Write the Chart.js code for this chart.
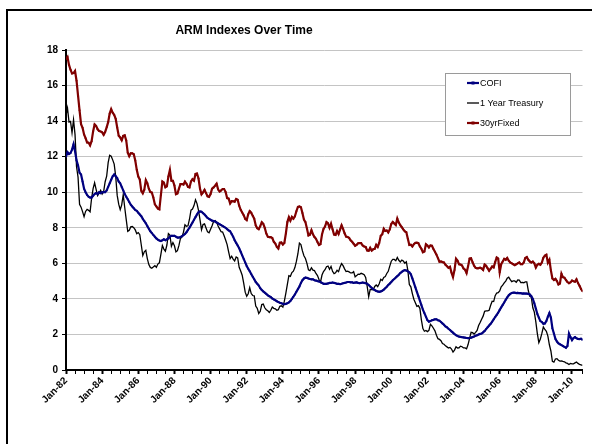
<!DOCTYPE html>
<html lang="en">
<head>
  <meta charset="UTF-8">
  <title>ARM Indexes Over Time</title>
  <script src="https://cdn.jsdelivr.net/npm/chart.js"></script>
  <style>
    html, body {
      margin: 0;
      padding: 0;
      background: #fff;
      overflow: hidden;
    }
    /* outer chart frame, runs off the right and bottom edge like the original */
    #frame {
      position: absolute;
      left: 6px;
      top: 9px;
      width: 620px;
      height: 470px;
      border: 2px solid #000;
    }
    #wrap {
      position: absolute;
      left: 0;
      top: 0;
      width: 592px;
      height: 444px;
    }
  </style>
</head>
<body>
  <div id="frame"></div>
  <div id="wrap"><canvas id="armChart"></canvas></div>

  <script>
    // monthly values, Jan-82 .. Aug-10 (one row per year)
    const cofi = [
      12.0, 12.25, 12.15, 12.2, 12.4, 12.7, 12.3, 11.8, 11.5, 11.1, 11.0, 10.6,
      10.2, 10.0, 9.85, 9.75, 9.7, 9.7, 9.8, 9.9, 9.95, 9.9, 10.0, 9.95,
      10.0, 10.0, 10.0, 10.1, 10.3, 10.5, 10.7, 10.9, 11.0, 10.9, 10.8, 10.6,
      10.5, 10.3, 10.1, 9.9, 9.75, 9.6, 9.45, 9.3, 9.2, 9.1, 9.0, 8.95,
      8.85, 8.75, 8.65, 8.5, 8.38, 8.25, 8.1, 7.95, 7.8, 7.7, 7.6, 7.5,
      7.4, 7.33, 7.28, 7.25, 7.3, 7.35, 7.3, 7.35, 7.4, 7.5, 7.55, 7.55,
      7.55, 7.5, 7.45, 7.45, 7.48, 7.52, 7.58, 7.65, 7.75, 7.88, 8.0, 8.15,
      8.3, 8.45, 8.6, 8.75, 8.88, 8.92, 8.9, 8.82, 8.75, 8.65, 8.55, 8.5,
      8.45, 8.4, 8.38, 8.35, 8.3, 8.25, 8.2, 8.15, 8.1, 8.05, 8.0, 7.92,
      7.85, 7.8, 7.65, 7.5, 7.3, 7.15, 7.0, 6.85, 6.65, 6.45, 6.25, 6.05,
      5.85, 5.7, 5.55, 5.4, 5.25, 5.1, 4.95, 4.85, 4.75, 4.6, 4.5, 4.42,
      4.35, 4.28, 4.2, 4.15, 4.1, 4.02, 3.97, 3.92, 3.87, 3.82, 3.78, 3.75,
      3.72, 3.7, 3.72, 3.75, 3.8, 3.88, 4.0, 4.12, 4.25, 4.4, 4.55, 4.7,
      4.9, 5.05, 5.15, 5.2, 5.18, 5.15, 5.12, 5.1, 5.1, 5.05, 5.03, 5.0,
      4.98, 4.95, 4.9, 4.85, 4.85, 4.85, 4.87, 4.9, 4.9, 4.92, 4.9, 4.88,
      4.85, 4.85, 4.83, 4.85, 4.88, 4.9, 4.92, 4.95, 4.95, 4.93, 4.93, 4.9,
      4.92, 4.93, 4.9, 4.88, 4.9, 4.92, 4.9, 4.88, 4.85, 4.78, 4.7, 4.62,
      4.55, 4.5, 4.45, 4.42, 4.4, 4.42, 4.46, 4.52, 4.6, 4.68, 4.78, 4.86,
      4.95, 5.05, 5.12, 5.2, 5.28, 5.36, 5.45, 5.52, 5.58, 5.62, 5.6, 5.55,
      5.5, 5.38, 5.15, 4.9, 4.65, 4.4, 4.15, 3.9, 3.65, 3.4, 3.2, 3.0,
      2.8, 2.72, 2.75, 2.8, 2.82, 2.85, 2.85, 2.8, 2.77, 2.7, 2.62, 2.55,
      2.45, 2.4, 2.32, 2.25, 2.17, 2.1, 2.02, 1.96, 1.91, 1.88, 1.86, 1.84,
      1.83, 1.82, 1.8, 1.79, 1.8, 1.82, 1.85, 1.88, 1.92, 1.96, 2.0, 2.03,
      2.05, 2.12, 2.2, 2.3, 2.4, 2.5, 2.6, 2.72, 2.85, 2.98, 3.1, 3.22,
      3.38, 3.52, 3.66, 3.8, 3.95, 4.08, 4.2, 4.28, 4.33, 4.35, 4.35, 4.33,
      4.34, 4.32, 4.32, 4.3, 4.31, 4.3, 4.3, 4.28, 4.25, 4.15, 4.0, 3.75,
      3.45, 3.15, 2.95, 2.75, 2.7, 2.6, 2.62, 2.75, 3.0, 3.2, 2.95, 2.35,
      2.05, 1.75, 1.6, 1.5, 1.45, 1.4, 1.35, 1.3, 1.25, 1.35, 2.05, 1.85,
      1.68, 1.8, 1.85, 1.78, 1.75, 1.74, 1.76, 1.7
    ];

    const treasury1y = [
      14.32, 14.73, 13.95, 13.98, 13.34, 14.07, 13.24, 11.43, 10.85, 9.32, 9.16, 8.91,
      8.62, 8.92, 9.04, 8.98, 8.90, 9.66, 10.20, 10.53, 10.16, 9.81, 9.94, 10.11,
      9.90, 10.04, 10.59, 10.90, 11.66, 12.08, 12.03, 11.82, 11.58, 10.90, 9.82, 9.33,
      9.02, 9.29, 9.86, 9.14, 8.46, 7.80, 7.86, 8.05, 8.07, 8.01, 7.88, 7.67,
      7.73, 7.61, 7.03, 6.44, 6.65, 6.73, 6.27, 5.93, 5.77, 5.72, 5.80, 5.87,
      5.78, 5.96, 6.03, 6.50, 7.00, 6.80, 6.68, 7.03, 7.67, 7.59, 6.96, 7.17,
      6.99, 6.64, 6.71, 7.01, 7.40, 7.49, 7.75, 8.17, 8.09, 8.11, 8.48, 8.99,
      9.05, 9.25, 9.57, 9.36, 8.98, 8.44, 7.89, 8.18, 8.22, 7.99, 7.77, 7.72,
      7.92, 8.11, 8.35, 8.40, 8.32, 8.10, 7.94, 7.78, 7.76, 7.55, 7.31, 7.05,
      6.64, 6.27, 6.40, 6.24, 6.13, 6.36, 6.31, 5.78, 5.57, 5.33, 4.89, 4.38,
      4.15, 4.29, 4.63, 4.30, 4.19, 4.17, 3.60, 3.47, 3.18, 3.30, 3.68, 3.71,
      3.50, 3.39, 3.33, 3.24, 3.36, 3.54, 3.47, 3.44, 3.36, 3.39, 3.58, 3.61,
      3.54, 3.87, 4.32, 4.82, 5.31, 5.27, 5.48, 5.56, 5.76, 6.11, 6.54, 7.14,
      7.05, 6.70, 6.43, 6.27, 6.00, 5.64, 5.59, 5.75, 5.62, 5.59, 5.43, 5.31,
      5.09, 4.94, 5.34, 5.54, 5.64, 5.81, 5.85, 5.67, 5.83, 5.55, 5.42, 5.47,
      5.61, 5.53, 5.80, 5.99, 5.87, 5.69, 5.54, 5.56, 5.52, 5.46, 5.46, 5.53,
      5.24, 5.31, 5.39, 5.38, 5.44, 5.41, 5.36, 5.21, 4.71, 4.12, 4.53, 4.52,
      4.51, 4.70, 4.78, 4.69, 4.85, 5.10, 5.03, 5.20, 5.25, 5.43, 5.55, 5.84,
      6.12, 6.22, 6.22, 6.15, 6.33, 6.17, 6.08, 6.18, 6.13, 6.01, 6.09, 5.60,
      4.81, 4.68, 4.30, 3.98, 3.78, 3.58, 3.62, 3.47, 2.82, 2.33, 2.18, 2.22,
      2.16, 2.23, 2.57, 2.48, 2.35, 2.20, 1.96, 1.76, 1.72, 1.65, 1.49, 1.45,
      1.36, 1.30, 1.24, 1.27, 1.18, 1.01, 1.12, 1.31, 1.24, 1.25, 1.34, 1.31,
      1.24, 1.24, 1.19, 1.43, 1.78, 2.12, 2.10, 2.02, 2.12, 2.23, 2.50, 2.67,
      2.86, 3.03, 3.30, 3.32, 3.33, 3.36, 3.64, 3.87, 3.85, 4.18, 4.33, 4.35,
      4.45, 4.68, 4.77, 4.90, 5.00, 5.16, 5.22, 5.08, 4.97, 5.01, 5.01, 4.94,
      5.06, 5.05, 4.92, 4.93, 4.91, 4.96, 4.96, 4.47, 4.14, 4.10, 3.50, 3.26,
      2.71, 2.05, 1.54, 1.74, 2.06, 2.42, 2.28, 2.18, 1.91, 1.42, 1.07, 0.49,
      0.44, 0.62, 0.64, 0.55, 0.50, 0.51, 0.48, 0.46, 0.40, 0.37, 0.31, 0.37,
      0.35, 0.35, 0.40, 0.45, 0.37, 0.32, 0.29, 0.26
    ];

    const fixed30 = [
      17.48, 17.60, 17.16, 16.89, 16.68, 16.70, 16.82, 16.27, 15.43, 14.61, 13.83, 13.62,
      13.25, 13.04, 12.80, 12.78, 12.63, 12.87, 13.42, 13.81, 13.73, 13.54, 13.44, 13.42,
      13.37, 13.23, 13.39, 13.65, 13.94, 14.42, 14.67, 14.47, 14.35, 14.13, 13.64, 13.18,
      13.08, 12.92, 13.17, 13.20, 12.91, 12.22, 12.03, 12.19, 12.19, 12.14, 11.78, 11.26,
      10.88, 10.71, 10.08, 9.94, 10.14, 10.68, 10.51, 10.20, 10.01, 9.98, 9.70, 9.32,
      9.20, 9.08, 9.04, 9.83, 10.60, 10.54, 10.28, 10.33, 10.89, 11.26, 10.65, 10.64,
      10.38, 9.89, 9.93, 10.20, 10.46, 10.46, 10.43, 10.60, 10.48, 10.30, 10.27, 10.61,
      10.73, 10.65, 11.03, 11.05, 10.77, 10.20, 9.88, 9.99, 10.13, 9.95, 9.77, 9.74,
      9.90, 10.20, 10.27, 10.37, 10.48, 10.16, 10.04, 10.10, 10.18, 10.18, 10.01, 9.67,
      9.64, 9.37, 9.50, 9.49, 9.47, 9.62, 9.58, 9.24, 9.01, 8.86, 8.71, 8.50,
      8.43, 8.76, 8.94, 8.85, 8.67, 8.51, 8.13, 7.98, 7.92, 8.09, 8.31, 8.22,
      7.99, 7.68, 7.50, 7.47, 7.47, 7.42, 7.21, 7.11, 6.92, 6.83, 7.16, 7.17,
      7.06, 7.15, 7.68, 8.32, 8.60, 8.40, 8.61, 8.51, 8.64, 8.93, 9.17, 9.20,
      9.15, 8.83, 8.46, 8.32, 7.96, 7.57, 7.61, 7.86, 7.64, 7.48, 7.38, 7.20,
      7.03, 7.08, 7.62, 7.93, 8.07, 8.32, 8.25, 8.00, 8.23, 7.92, 7.62, 7.60,
      7.82, 7.65, 7.90, 8.14, 7.94, 7.69, 7.50, 7.48, 7.43, 7.29, 7.21, 7.10,
      6.99, 7.04, 7.13, 7.14, 7.14, 7.00, 6.95, 6.92, 6.72, 6.71, 6.87, 6.72,
      6.79, 6.81, 7.04, 6.92, 7.15, 7.55, 7.63, 7.94, 7.82, 7.85, 7.74, 7.91,
      8.21, 8.33, 8.24, 8.15, 8.52, 8.29, 8.15, 8.03, 7.91, 7.80, 7.75, 7.38,
      7.03, 7.05, 6.95, 7.08, 7.15, 7.16, 7.13, 6.95, 6.82, 6.62, 6.66, 7.07,
      7.00, 6.89, 7.01, 6.99, 6.81, 6.65, 6.49, 6.29, 6.09, 6.11, 6.07, 6.05,
      5.92, 5.84, 5.75, 5.81, 5.48, 5.23, 5.63, 6.26, 6.15, 5.95, 5.93, 5.88,
      5.71, 5.64, 5.45, 5.83, 6.27, 6.29, 6.06, 5.87, 5.75, 5.72, 5.73, 5.75,
      5.71, 5.63, 5.93, 5.86, 5.72, 5.58, 5.70, 5.82, 5.77, 6.07, 6.33, 6.27,
      5.50, 5.95, 6.10, 6.25, 6.20, 6.30, 6.15, 6.05, 6.00, 5.95, 5.90, 5.95,
      6.00, 6.05, 5.95, 5.95, 6.05, 6.30, 6.35, 6.20, 6.10, 6.05, 6.10, 6.00,
      5.76, 5.92, 5.97, 5.92, 6.04, 6.32, 6.43, 6.48, 6.04, 6.20, 5.60, 5.15,
      5.06, 5.13, 5.00, 4.81, 4.86, 5.42, 5.22, 5.19, 5.06, 4.95, 4.88, 4.93,
      5.03, 4.99, 4.97, 5.10, 4.89, 4.74, 4.56, 4.43
    ];

    // one label every 24 months
    const tickLabels = ['Jan-82', 'Jan-84', 'Jan-86', 'Jan-88', 'Jan-90', 'Jan-92', 'Jan-94',
                        'Jan-96', 'Jan-98', 'Jan-00', 'Jan-02', 'Jan-04', 'Jan-06', 'Jan-08', 'Jan-10'];
    const seriesNames = ['COFI', '1 Year Treasury', '30yrFixed'];
    const titleText = 'ARM Indexes Over Time';

    const FONT = 'Arial, "Liberation Sans", sans-serif';
    const toXY = arr => arr.map((v, i) => ({ x: i, y: v }));

    // title + boxed legend drawn on top, legend sits inside the plot like Excel's
    const overlay = {
      id: 'overlay',
      afterDraw(chart) {
        const ctx = chart.ctx;
        ctx.save();
        ctx.fillStyle = '#000';
        ctx.font = 'bold 12px ' + FONT;
        ctx.textAlign = 'center';
        ctx.textBaseline = 'middle';
        ctx.fillText(titleText, 244, 31);

        // legend box
        ctx.fillStyle = '#fff';
        ctx.fillRect(445, 73, 125, 62);
        ctx.strokeStyle = '#9a9a9a';
        ctx.lineWidth = 1;
        ctx.strokeRect(445.5, 73.5, 125, 62);

        ctx.font = '9px ' + FONT;
        ctx.textAlign = 'left';
        chart.data.datasets.forEach((ds, i) => {
          const y = 83 + i * 20;
          ctx.strokeStyle = ds.borderColor;
          ctx.lineWidth = ds.borderWidth;
          ctx.beginPath();
          ctx.moveTo(467, y);
          ctx.lineTo(479, y);
          ctx.stroke();
          if (ds.pointRadius > 0) {
            ctx.fillStyle = ds.borderColor;
            ctx.fillRect(471.5, y - 1.5, 3, 3);
          }
          ctx.fillStyle = '#000';
          ctx.fillText(ds.label, 480, y + 0.5);
        });
        ctx.restore();
      }
    };

    new Chart(document.getElementById('armChart'), {
      type: 'line',
      data: {
        datasets: [
          {
            label: seriesNames[0],
            data: toXY(cofi),
            borderColor: '#000080',
            backgroundColor: '#000080',
            borderWidth: 2.2,
            pointRadius: 1,
            pointBorderWidth: 0,
            tension: 0
          },
          {
            label: seriesNames[1],
            data: toXY(treasury1y),
            borderColor: '#000000',
            backgroundColor: '#000000',
            borderWidth: 1.3,
            pointRadius: 0,
            tension: 0
          },
          {
            label: seriesNames[2],
            data: toXY(fixed30),
            borderColor: '#800000',
            backgroundColor: '#800000',
            borderWidth: 2.2,
            pointRadius: 1,
            pointBorderWidth: 0,
            tension: 0
          }
        ]
      },
      options: {
        responsive: true,
        maintainAspectRatio: false,
        animation: false,
        layout: { padding: { top: 50, right: 7, left: 0, bottom: 0 } },
        plugins: {
          legend: { display: false },
          title: { display: false },
          tooltip: { enabled: false }
        },
        scales: {
          x: {
            type: 'linear',
            min: 0,
            max: 343,
            border: { color: '#000', width: 2 },
            grid: {
              drawOnChartArea: false,
              drawTicks: true,
              tickLength: 4,
              tickColor: '#000',
              tickWidth: c => (c.tick && c.tick.value % 24 === 0) ? 2 : 1
            },
            ticks: {
              stepSize: 6,
              autoSkip: false,
              minRotation: 45,
              maxRotation: 45,
              padding: 1,
              color: '#000',
              font: { family: FONT, size: 10, weight: 'bold' },
              callback: v => (v % 24 === 0) ? tickLabels[v / 24] : ''
            },
            afterFit: s => { s.height = 74; }
          },
          y: {
            min: 0,
            max: 18,
            border: { color: '#000', width: 2 },
            grid: {
              color: '#c4c4c4',
              lineWidth: 1,
              tickColor: '#000',
              tickLength: 4
            },
            ticks: {
              stepSize: 2,
              padding: 4,
              color: '#000',
              font: { family: FONT, size: 10, weight: 'bold' }
            },
            afterFit: s => { s.width = 66; }
          }
        }
      },
      plugins: [overlay]
    });
  </script>
</body>
</html>
